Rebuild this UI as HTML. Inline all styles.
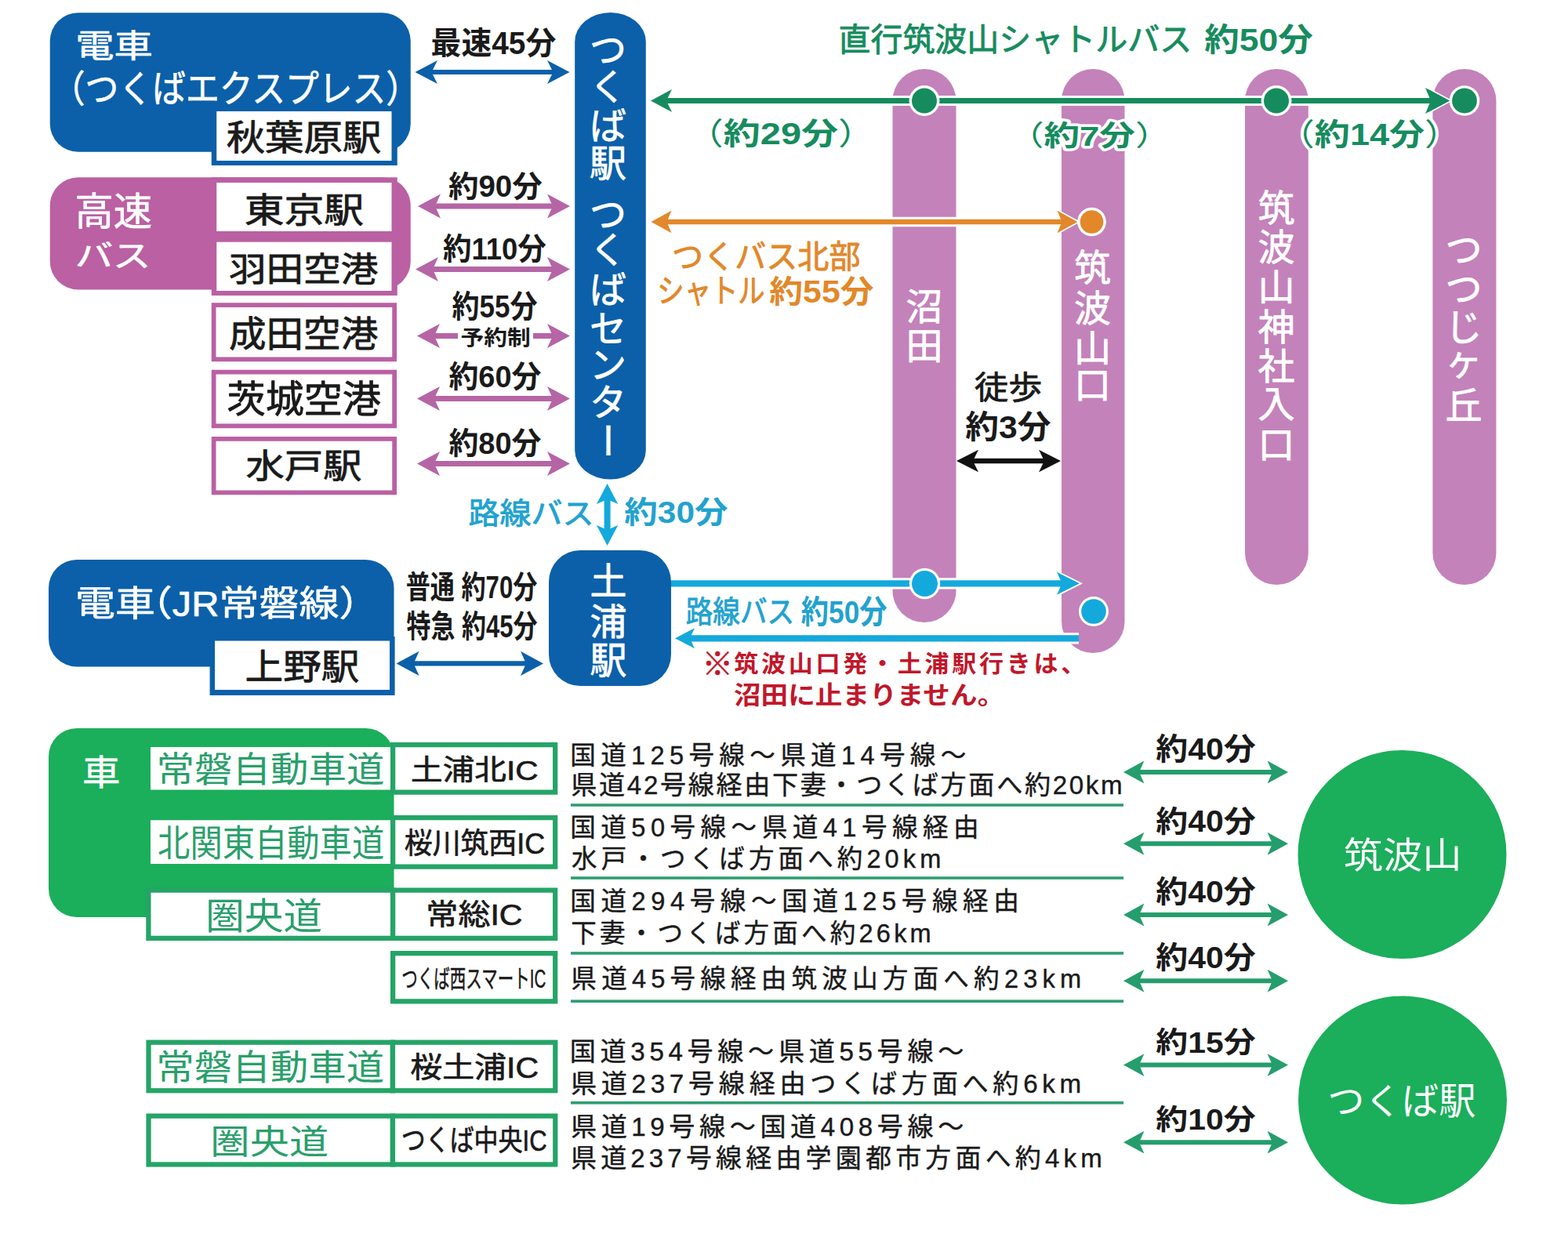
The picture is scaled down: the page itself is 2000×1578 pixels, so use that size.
<!DOCTYPE html>
<html lang="ja">
<head>
<meta charset="utf-8">
<title>筑波山へのアクセス</title>
<style>
html,body{margin:0;padding:0;background:#fff}
body{width:2000px;height:1578px;overflow:hidden;font-family:"Liberation Sans","Noto Sans CJK JP",sans-serif}
svg{display:block}
svg text{font-family:"Liberation Sans","Noto Sans CJK JP",sans-serif;stroke-linejoin:round}
.b{font-weight:bold}
.h{font-weight:bold;fill:#1a1a1a;stroke:#fff;paint-order:stroke}
.v{font-size:47px;fill:#fff;stroke:#fff;stroke-width:0.8;text-anchor:middle}
</style>
</head>
<body>
<svg width="2000" height="1578" viewBox="0 0 2000 1578" role="img" aria-label="筑波山へのアクセス案内図">
<rect width="2000" height="1578" fill="#fff"/>
<rect x="63.75" y="16.25" width="460" height="177.5" rx="36" fill="#0b60a9"/>
<rect x="269.75" y="140" width="237" height="71" fill="#0b60a9"/>
<rect x="276.25" y="142" width="223.25" height="63" fill="#fff"/>
<text x="96.25" y="72.87" font-size="40.67" fill="#fff" stroke="#fff" stroke-width="0.7" textLength="98.66" lengthAdjust="spacingAndGlyphs">電車</text>
<text x="65.85" y="130.41" font-size="47.79" fill="#fff" stroke="#fff" stroke-width="0.7" textLength="469.26" lengthAdjust="spacingAndGlyphs">（つくばエクスプレス）</text>
<text x="288.66" y="192.45" font-size="45.18" fill="#1a1a1a" stroke="#1a1a1a" stroke-width="0.8" textLength="197.8" lengthAdjust="spacingAndGlyphs">秋葉原駅</text>
<rect x="63.75" y="226.25" width="460" height="143.25" rx="36" fill="#ba60a3"/>
<rect x="269.75" y="226.25" width="237" height="150.75" fill="#ba60a3"/>
<rect x="276.25" y="233" width="223.25" height="62" fill="#fff"/>
<rect x="276.25" y="308.75" width="223.25" height="62.25" fill="#fff"/>
<rect x="272.62" y="389.12" width="230.5" height="69.25" fill="#fff" stroke="#ba60a3" stroke-width="5.75"/>
<rect x="272.62" y="474.62" width="230.5" height="68.75" fill="#fff" stroke="#ba60a3" stroke-width="5.75"/>
<rect x="272.62" y="559.88" width="230.5" height="68.5" fill="#fff" stroke="#ba60a3" stroke-width="5.75"/>
<text x="95.54" y="287.34" font-size="48.86" fill="#fff" stroke="#fff" stroke-width="0.7" textLength="98.68" lengthAdjust="spacingAndGlyphs">高速</text>
<text x="95.65" y="340.21" font-size="38.42" fill="#fff" stroke="#fff" stroke-width="0.7" textLength="96.74" lengthAdjust="spacingAndGlyphs">バス</text>
<text x="311.67" y="283.75" font-size="44.59" fill="#1a1a1a" stroke="#1a1a1a" stroke-width="0.8" textLength="152.37" lengthAdjust="spacingAndGlyphs">東京駅</text>
<text x="292.09" y="359.1" font-size="43.57" fill="#1a1a1a" stroke="#1a1a1a" stroke-width="0.8" textLength="190.12" lengthAdjust="spacingAndGlyphs">羽田空港</text>
<text x="292.04" y="442.26" font-size="45.85" fill="#1a1a1a" stroke="#1a1a1a" stroke-width="0.8" textLength="190.16" lengthAdjust="spacingAndGlyphs">成田空港</text>
<text x="289.53" y="526.07" font-size="47.35" fill="#1a1a1a" stroke="#1a1a1a" stroke-width="0.8" textLength="196.44" lengthAdjust="spacingAndGlyphs">茨城空港</text>
<text x="313.57" y="610.11" font-size="43.38" fill="#1a1a1a" stroke="#1a1a1a" stroke-width="0.8" textLength="147.9" lengthAdjust="spacingAndGlyphs">水戸駅</text>
<path d="M549.5 92L706.5 92" stroke="#0b60a9" stroke-width="5.8" fill="none"/>
<path d="M529.5 92L558 77L550.5 92L558 107ZM726.5 92L698 107L705.5 92L698 77Z" fill="#0b60a9"/>
<path d="M554 263L706 263" stroke="#b565a6" stroke-width="7" fill="none"/>
<path d="M533 263L562 247.5L555 263L562 278.5ZM727 263L698 278.5L705 263L698 247.5Z" fill="#b565a6"/>
<path d="M551 343.5L706 343.5" stroke="#b565a6" stroke-width="7" fill="none"/>
<path d="M530 343.5L559 328L552 343.5L559 359ZM727 343.5L698 359L705 343.5L698 328Z" fill="#b565a6"/>
<path d="M553 508.6L706 508.6" stroke="#b565a6" stroke-width="7" fill="none"/>
<path d="M532 508.6L561 493.1L554 508.6L561 524.1ZM727 508.6L698 524.1L705 508.6L698 493.1Z" fill="#b565a6"/>
<path d="M553 591.4L706 591.4" stroke="#b565a6" stroke-width="7" fill="none"/>
<path d="M532 591.4L561 575.9L554 591.4L561 606.9ZM727 591.4L698 606.9L705 591.4L698 575.9Z" fill="#b565a6"/>
<path d="M553 428.5L584 428.5" stroke="#b565a6" stroke-width="7" fill="none"/>
<path d="M532 428.5L561 413L554 428.5L561 444Z" fill="#b565a6"/>
<path d="M680 428.5L706 428.5" stroke="#b565a6" stroke-width="7" fill="none"/>
<path d="M727 428.5L698 444L705 428.5L698 413Z" fill="#b565a6"/>
<text class="h" x="549.61" y="68.69" font-size="39.72" stroke-width="5" textLength="159.6" lengthAdjust="spacingAndGlyphs">最速45分</text>
<text class="h" x="571.9" y="250.85" font-size="38.05" stroke-width="5" textLength="119.85" lengthAdjust="spacingAndGlyphs">約90分</text>
<text class="h" x="564.94" y="331.32" font-size="38.32" stroke-width="5" textLength="131.76" lengthAdjust="spacingAndGlyphs">約110分</text>
<text class="h" x="576.45" y="405.14" font-size="40.17" stroke-width="5" textLength="108.98" lengthAdjust="spacingAndGlyphs">約55分</text>
<text class="h" x="587.6" y="439.61" font-size="26.6" stroke-width="4" textLength="89.25" lengthAdjust="spacingAndGlyphs">予約制</text>
<text class="h" x="572.41" y="494.25" font-size="39.11" stroke-width="5" textLength="118.07" lengthAdjust="spacingAndGlyphs">約60分</text>
<text class="h" x="572.41" y="579.25" font-size="39.11" stroke-width="5" textLength="118.07" lengthAdjust="spacingAndGlyphs">約80分</text>
<rect x="733.2" y="16" width="90.6" height="595.6" rx="45.3" ry="37" fill="#0b60a9"/>
<g class="v"><text x="775.5" y="80.4">つ</text><text x="775.5" y="127.27">く</text><text x="775.5" y="176.81">ば</text><text x="775.5" y="225.1">駅</text><text x="775.5" y="290.3">つ</text><text x="775.5" y="335.07">く</text><text x="775.5" y="386.21">ば</text><text x="775.5" y="436.44">セ</text><text x="775.5" y="481.58">ン</text><text x="775.5" y="529.6">タ</text><text x="775.4" y="579.55" transform="rotate(90 775.4 561.7)">ー</text></g>
<rect x="1138.5" y="88" width="81" height="706" rx="40.5" fill="#c382ba"/>
<rect x="1354" y="88" width="80.5" height="745" rx="40.25" fill="#c382ba"/>
<rect x="1588" y="88" width="80.8" height="658" rx="40.4" fill="#c382ba"/>
<rect x="1827.4" y="88" width="81" height="658" rx="40.5" fill="#c382ba"/>
<g class="v"><text x="1179" y="407.6">沼</text><text x="1179" y="457.95">田</text></g>
<g class="v"><text x="1393.4" y="357.52">筑</text><text x="1393.4" y="409.84">波</text><text x="1393.4" y="460.65">山</text><text x="1393.4" y="507.98">口</text></g>
<g class="v"><text x="1628" y="282.02">筑</text><text x="1628" y="332.34">波</text><text x="1628" y="382.65">山</text><text x="1628" y="433.86">神</text><text x="1628" y="483.86">社</text><text x="1628" y="532.47">入</text><text x="1628" y="583.98">口</text></g>
<g class="v"><text x="1867" y="334.6">つ</text><text x="1867" y="384.6">つ</text><text x="1867" y="434.3">じ</text><text x="1867" y="478.48">ヶ</text><text x="1867" y="533.99">丘</text></g>
<path d="M850 128.5L1829 128.5" stroke="#fff" stroke-width="13" fill="none"/>
<path d="M830 128.5L857 114L850 128.5L857 143ZM1849 128.5L1822 143L1829 128.5L1822 114Z" fill="#fff" stroke="#fff" stroke-width="3.6"/>
<path d="M849 128.5L1830 128.5" stroke="#168c5e" stroke-width="7" fill="none"/>
<path d="M830 128.5L857 114L850 128.5L857 143ZM1849 128.5L1822 143L1829 128.5L1822 114Z" fill="#168c5e"/>
<path d="M1849 128.5L1818 144.9L1825 128.5L1818 112.1Z" fill="#168c5e"/>
<path d="M850.5 283L1354.5 283" stroke="#fff" stroke-width="12.6" fill="none"/>
<path d="M830.5 283L856.5 268.7L850.5 283L856.5 297.3ZM1374.5 283L1348.5 297.3L1354.5 283L1348.5 268.7Z" fill="#fff" stroke="#fff" stroke-width="3.6"/>
<path d="M849.5 283L1355.5 283" stroke="#e2882a" stroke-width="6.6" fill="none"/>
<path d="M830.5 283L856.5 268.7L850.5 283L856.5 297.3ZM1374.5 283L1348.5 297.3L1354.5 283L1348.5 268.7Z" fill="#e2882a"/>
<path d="M856 744.3L1354.5 744.3" stroke="#fff" stroke-width="14.2" fill="none"/>
<path d="M1377 744.3L1348 758.8L1354.5 744.3L1348 729.8Z" fill="#fff" stroke="#fff" stroke-width="3.6"/>
<path d="M856 744.3L1355.5 744.3" stroke="#14a9dc" stroke-width="8.2" fill="none"/>
<path d="M1377 744.3L1348 758.8L1354.5 744.3L1348 729.8Z" fill="#14a9dc"/>
<path d="M880 814.3L1376 814.3" stroke="#fff" stroke-width="14.2" fill="none"/>
<path d="M861 814.3L886 801.3L880 814.3L886 827.3Z" fill="#fff" stroke="#fff" stroke-width="3.6"/>
<path d="M879 814.3L1376 814.3" stroke="#14a9dc" stroke-width="8.2" fill="none"/>
<path d="M861 814.3L886 801.3L880 814.3L886 827.3Z" fill="#14a9dc"/>
<circle cx="1179" cy="128.5" r="19.4" fill="#fff"/>
<circle cx="1179" cy="128.5" r="16" fill="#168c5e"/>
<circle cx="1628" cy="128.5" r="19.4" fill="#fff"/>
<circle cx="1628" cy="128.5" r="16" fill="#168c5e"/>
<circle cx="1868" cy="128.5" r="19.3" fill="#fff"/>
<circle cx="1868" cy="128.5" r="15.9" fill="#168c5e"/>
<circle cx="1392.5" cy="283" r="18.3" fill="#fff"/>
<circle cx="1392.5" cy="283" r="14.8" fill="#e2882a"/>
<circle cx="1179.5" cy="744.5" r="19.7" fill="#fff"/>
<circle cx="1179.5" cy="744.5" r="16.5" fill="#14a9dc"/>
<circle cx="1395" cy="780" r="19" fill="#fff"/>
<circle cx="1395" cy="780" r="15.8" fill="#14a9dc"/>
<text x="1069.46" y="65.1" font-size="40.95" fill="#168c5e" stroke="#168c5e" stroke-width="0.9" textLength="450.67" lengthAdjust="spacingAndGlyphs">直行筑波山シャトルバス</text>
<text class="b" x="1536.3" y="65.04" font-size="41.23" fill="#168c5e" textLength="138.27" lengthAdjust="spacingAndGlyphs">約50分</text>
<text class="b" x="875.84" y="184.25" font-size="39.11" fill="#168c5e" stroke="#fff" stroke-width="7" paint-order="stroke" textLength="240.2" lengthAdjust="spacingAndGlyphs"><tspan font-weight="normal">（</tspan>約29分<tspan font-weight="normal">）</tspan></text>
<text class="b" x="1285.9" y="185.55" font-size="35.94" fill="#168c5e" stroke="#fff" stroke-width="7" paint-order="stroke" textLength="207.57" lengthAdjust="spacingAndGlyphs"><tspan font-weight="normal">（</tspan>約7分<tspan font-weight="normal">）</tspan></text>
<text class="b" x="1631.84" y="185.25" font-size="39.11" fill="#168c5e" stroke="#fff" stroke-width="7" paint-order="stroke" textLength="230.2" lengthAdjust="spacingAndGlyphs"><tspan font-weight="normal">（</tspan>約14分<tspan font-weight="normal">）</tspan></text>
<text x="857.07" y="341.64" font-size="41.44" fill="#e2882a" stroke="#e2882a" stroke-width="0.9" textLength="240.42" lengthAdjust="spacingAndGlyphs">つくバス北部</text>
<text x="838.36" y="386.25" font-size="41.67" fill="#e2882a" stroke="#e2882a" stroke-width="0.9" textLength="137.28" lengthAdjust="spacingAndGlyphs">シャトル</text>
<text class="b" x="981.33" y="386.14" font-size="40.17" fill="#e2882a" textLength="133.2" lengthAdjust="spacingAndGlyphs">約55分</text>
<text x="1243.09" y="509.4" font-size="40.86" fill="#1a1a1a" stroke="#1a1a1a" stroke-width="0.8" textLength="86.24" lengthAdjust="spacingAndGlyphs">徒歩</text>
<text class="b" x="1231.33" y="559.04" font-size="41.23" fill="#1a1a1a" textLength="109.2" lengthAdjust="spacingAndGlyphs">約3分</text>
<path d="M1240 588L1333 588" stroke="#111" stroke-width="6.4" fill="none"/>
<path d="M1220 588L1248 573.8L1241 588L1248 602.2ZM1353 588L1325 602.2L1332 588L1325 573.8Z" fill="#111"/>
<path d="M774.6 636L774.6 677" stroke="#14a9dc" stroke-width="8" fill="none"/>
<path d="M774.6 617L788.3 643L774.6 637L760.9 643ZM774.6 696L760.9 670L774.6 676L788.3 670Z" fill="#14a9dc"/>
<text x="597.48" y="667.96" font-size="38" fill="#22a2cf" stroke="#22a2cf" stroke-width="0.9" textLength="160.16" lengthAdjust="spacingAndGlyphs">路線バス</text>
<text class="b" x="796.33" y="667.25" font-size="39.11" fill="#22a2cf" textLength="132.2" lengthAdjust="spacingAndGlyphs">約30分</text>
<rect x="700" y="702" width="156" height="173" rx="40" fill="#0b60a9"/>
<g class="v"><text x="776" y="758.35">土</text><text x="776" y="810.42">浦</text><text x="776" y="858.8">駅</text></g>
<text x="874.69" y="793.87" font-size="39.09" fill="#22a2cf" stroke="#22a2cf" stroke-width="0.9" textLength="138.4" lengthAdjust="spacingAndGlyphs">路線バス</text>
<text class="b" x="1021.85" y="795.04" font-size="41.23" fill="#22a2cf" textLength="109.6" lengthAdjust="spacingAndGlyphs">約50分</text>
<rect x="62" y="714" width="440.5" height="136.6" rx="36" fill="#0b60a9"/>
<rect x="267.6" y="812" width="236" height="75" fill="#0b60a9"/>
<rect x="274" y="817.5" width="223" height="62.5" fill="#fff"/>
<g font-size="45.17" fill="#fff" stroke="#fff" stroke-width="0.7">
<text x="96.12" y="785.66" textLength="102" lengthAdjust="spacingAndGlyphs">電車</text>
<text x="168.8" y="785.66" textLength="51" lengthAdjust="spacingAndGlyphs">（</text>
<text x="219.8" y="785.66" textLength="59.67" lengthAdjust="spacingAndGlyphs">JR</text>
<text x="279.47" y="785.66" textLength="153" lengthAdjust="spacingAndGlyphs">常磐線</text>
<text x="432.47" y="785.66" textLength="51" lengthAdjust="spacingAndGlyphs">）</text>
</g>
<text x="312.52" y="867.21" font-size="45.1" fill="#1a1a1a" stroke="#1a1a1a" stroke-width="0.8" textLength="145.95" lengthAdjust="spacingAndGlyphs">上野駅</text>
<text class="b" x="517.65" y="763.16" font-size="40.04" fill="#1a1a1a" textLength="167.7" lengthAdjust="spacingAndGlyphs">普通 約70分</text>
<text class="b" x="518.48" y="813.16" font-size="39.96" fill="#1a1a1a" textLength="166.9" lengthAdjust="spacingAndGlyphs">特急 約45分</text>
<path d="M526.6 846.4L672 846.4" stroke="#0b60a9" stroke-width="6.4" fill="none"/>
<path d="M505.6 846.4L534.6 830.8L527.6 846.4L534.6 862ZM693 846.4L664 862L671 846.4L664 830.8Z" fill="#0b60a9"/>
<text x="895.46" y="861.29" font-size="39.58" fill="#c1172b" stroke="#c1172b" stroke-width="0.5">※</text>
<text class="b" x="936.34" y="857.24" font-size="29.41" fill="#c1172b" letter-spacing="3.5" textLength="451.7" lengthAdjust="spacingAndGlyphs">筑波山口発・土浦駅行きは、</text>
<text class="b" x="935.97" y="898.21" font-size="31.35" fill="#c1172b" textLength="345.3" lengthAdjust="spacingAndGlyphs">沼田に止まりません。</text>
<rect x="62" y="929" width="440.5" height="241" rx="36" fill="#1bae5b"/>
<rect x="192" y="953" width="306" height="54.5" fill="#fff"/>
<rect x="192" y="1046.25" width="306" height="55.75" fill="#fff"/>
<rect x="189.38" y="1135.62" width="311.7" height="61.25" fill="#fff" stroke="#25a467" stroke-width="6.25"/>
<rect x="501.12" y="950.12" width="207.05" height="60.5" fill="#fff" stroke="#25a467" stroke-width="6.25"/>
<rect x="501.12" y="1043.12" width="207.05" height="62.5" fill="#fff" stroke="#25a467" stroke-width="6.25"/>
<rect x="501.12" y="1135.62" width="207.05" height="61.25" fill="#fff" stroke="#25a467" stroke-width="6.25"/>
<rect x="501.12" y="1216.12" width="207.05" height="61.25" fill="#fff" stroke="#25a467" stroke-width="6.25"/>
<rect x="189.53" y="1329.72" width="311.35" height="61.55" fill="#fff" stroke="#25a467" stroke-width="6.25"/>
<rect x="500.93" y="1329.72" width="207.35" height="61.55" fill="#fff" stroke="#25a467" stroke-width="6.25"/>
<rect x="189.53" y="1423.62" width="311.35" height="61.85" fill="#fff" stroke="#25a467" stroke-width="6.25"/>
<rect x="500.93" y="1423.62" width="207.35" height="61.85" fill="#fff" stroke="#25a467" stroke-width="6.25"/>
<text x="104.93" y="1002.2" font-size="45.82" fill="#fff" stroke="#fff" stroke-width="0.5" textLength="48.44" lengthAdjust="spacingAndGlyphs">車</text>
<text x="199.58" y="998.15" font-size="45.26" fill="#2a9f6b" textLength="290.9" lengthAdjust="spacingAndGlyphs">常磐自動車道</text>
<text x="201.1" y="1092.06" font-size="46.39" fill="#2a9f6b" textLength="289.1" lengthAdjust="spacingAndGlyphs">北関東自動車道</text>
<text x="262.18" y="1184.99" font-size="46.42" fill="#2a9f6b" textLength="149.07" lengthAdjust="spacingAndGlyphs">圏央道</text>
<text x="199.33" y="1377.65" font-size="45.26" fill="#2a9f6b" textLength="290.9" lengthAdjust="spacingAndGlyphs">常磐自動車道</text>
<text x="268.38" y="1471.89" font-size="43.32" fill="#2a9f6b" textLength="150.78" lengthAdjust="spacingAndGlyphs">圏央道</text>
<g fill="#1a1a1a" stroke="#1a1a1a" stroke-width="0.7">
<text x="524.1" y="995.16" font-size="35.82" textLength="162.4" lengthAdjust="spacingAndGlyphs">土浦北IC</text>
<text x="515.84" y="1088.75" font-size="36.98" textLength="179.2" lengthAdjust="spacingAndGlyphs">桜川筑西IC</text>
<text x="543.39" y="1179.5" font-size="37.46" textLength="123.1" lengthAdjust="spacingAndGlyphs">常総IC</text>
<text x="512.25" y="1260.04" font-size="32.31" stroke-width="0.5" textLength="184" lengthAdjust="spacingAndGlyphs">つくば西スマートIC</text>
<text x="523.17" y="1375.44" font-size="37.34" textLength="163.9" lengthAdjust="spacingAndGlyphs">桜土浦IC</text>
<text x="511.71" y="1468.47" font-size="37.46" textLength="185.8" lengthAdjust="spacingAndGlyphs">つくば中央IC</text>
</g>
<g fill="#1a1a1a" stroke="#1a1a1a" stroke-width="0.4">
<text x="727.2" y="974.89" font-size="32.61" textLength="505.2" lengthAdjust="spacing">国道125号線～県道14号線～</text>
<text x="728.34" y="1013.35" font-size="33.15" textLength="703.2" lengthAdjust="spacing">県道42号線経由下妻・つくば方面へ約20km</text>
<text x="727.2" y="1067.39" font-size="32.61" textLength="521.5" lengthAdjust="spacing">国道50号線～県道41号線経由</text>
<text x="729.06" y="1107.27" font-size="32.54" textLength="471.2" lengthAdjust="spacing">水戸・つくば方面へ約20km</text>
<text x="727.2" y="1161.14" font-size="32.61" textLength="572.7" lengthAdjust="spacing">国道294号線～国道125号線経由</text>
<text x="728.21" y="1202.36" font-size="32.57" textLength="459.5" lengthAdjust="spacing">下妻・つくば方面へ約26km</text>
<text x="728.37" y="1259.89" font-size="32.61" textLength="650.7" lengthAdjust="spacing">県道45号線経由筑波山方面へ約23km</text>
<text x="726.75" y="1353.35" font-size="33.15" textLength="502.6" lengthAdjust="spacing">国道354号線～県道55号線～</text>
<text x="727.94" y="1393.85" font-size="33.15" textLength="651.2" lengthAdjust="spacing">県道237号線経由つくば方面へ約6km</text>
<text x="727.94" y="1448.85" font-size="33.15" textLength="501.4" lengthAdjust="spacing">県道19号線～国道408号線～</text>
<text x="727.95" y="1488.76" font-size="33.04" textLength="677.8" lengthAdjust="spacing">県道237号線経由学園都市方面へ約4km</text>
</g>
<rect x="728" y="1025.2" width="705" height="3.6" fill="#2f9d70"/>
<rect x="728" y="1118.2" width="705" height="3.6" fill="#2f9d70"/>
<rect x="728" y="1214.2" width="705" height="3.6" fill="#2f9d70"/>
<rect x="728" y="1275.4" width="705" height="3.6" fill="#2f9d70"/>
<rect x="728" y="1405" width="705" height="3.6" fill="#2f9d70"/>
<path d="M1452 985L1624 985" stroke="#259d6c" stroke-width="6" fill="none"/>
<path d="M1433 985L1459.5 970.6L1453 985L1459.5 999.4ZM1643 985L1616.5 999.4L1623 985L1616.5 970.6Z" fill="#259d6c"/>
<path d="M1452 1076.25L1624 1076.25" stroke="#259d6c" stroke-width="6" fill="none"/>
<path d="M1433 1076.25L1459.5 1061.85L1453 1076.25L1459.5 1090.65ZM1643 1076.25L1616.5 1090.65L1623 1076.25L1616.5 1061.85Z" fill="#259d6c"/>
<path d="M1452 1167L1624 1167" stroke="#259d6c" stroke-width="6" fill="none"/>
<path d="M1433 1167L1459.5 1152.6L1453 1167L1459.5 1181.4ZM1643 1167L1616.5 1181.4L1623 1167L1616.5 1152.6Z" fill="#259d6c"/>
<path d="M1452 1251.25L1624 1251.25" stroke="#259d6c" stroke-width="6" fill="none"/>
<path d="M1433 1251.25L1459.5 1236.85L1453 1251.25L1459.5 1265.65ZM1643 1251.25L1616.5 1265.65L1623 1251.25L1616.5 1236.85Z" fill="#259d6c"/>
<path d="M1452 1358.6L1624 1358.6" stroke="#259d6c" stroke-width="6" fill="none"/>
<path d="M1433 1358.6L1459.5 1344.2L1453 1358.6L1459.5 1373ZM1643 1358.6L1616.5 1373L1623 1358.6L1616.5 1344.2Z" fill="#259d6c"/>
<path d="M1452 1457.2L1624 1457.2" stroke="#259d6c" stroke-width="6" fill="none"/>
<path d="M1433 1457.2L1459.5 1442.8L1453 1457.2L1459.5 1471.6ZM1643 1457.2L1616.5 1471.6L1623 1457.2L1616.5 1442.8Z" fill="#259d6c"/>
<text class="h" x="1474.36" y="968.82" font-size="38.32" stroke-width="5" textLength="127.4" lengthAdjust="spacingAndGlyphs">約40分</text>
<text class="h" x="1474.36" y="1060.6" font-size="38.05" stroke-width="5" textLength="127.4" lengthAdjust="spacingAndGlyphs">約40分</text>
<text class="h" x="1474.36" y="1151.32" font-size="38.32" stroke-width="5" textLength="127.4" lengthAdjust="spacingAndGlyphs">約40分</text>
<text class="h" x="1474.36" y="1235.07" font-size="38.32" stroke-width="5" textLength="127.4" lengthAdjust="spacingAndGlyphs">約40分</text>
<text class="h" x="1474.36" y="1343.05" font-size="37" stroke-width="5" textLength="127.2" lengthAdjust="spacingAndGlyphs">約15分</text>
<text class="h" x="1474.36" y="1441.09" font-size="36.58" stroke-width="5" textLength="127.2" lengthAdjust="spacingAndGlyphs">約10分</text>
<circle cx="1788.5" cy="1090" r="133" fill="#1bae5b"/>
<circle cx="1789" cy="1403.5" r="133" fill="#1bae5b"/>
<text x="1713.74" y="1107.49" font-size="45.85" fill="#fff" textLength="150.9" lengthAdjust="spacingAndGlyphs">筑波山</text>
<text x="1693.35" y="1421.08" font-size="46.66" fill="#fff" textLength="189.08" lengthAdjust="spacingAndGlyphs">つくば駅</text>
</svg>
</body>
</html>
